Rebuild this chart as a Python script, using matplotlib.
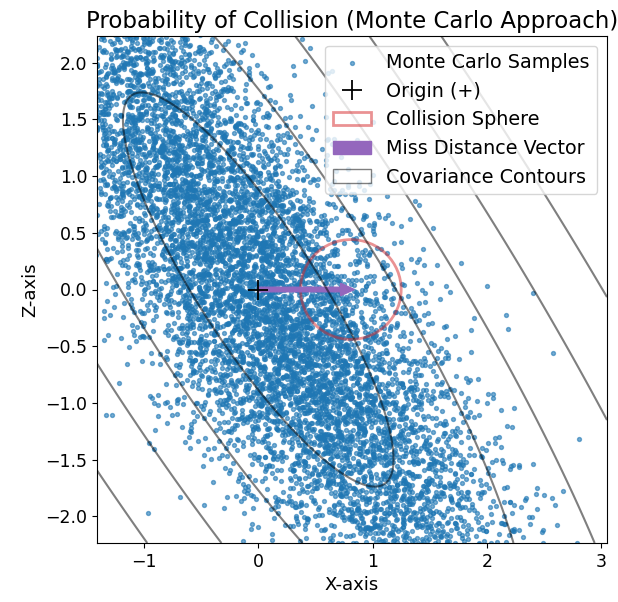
import numpy as np
import matplotlib
matplotlib.use("Agg")
import matplotlib.pyplot as plt
from matplotlib.patches import Patch

# relative position distribution
mean = [0.0, 0.0]
cov = [[1.40, -1.77],
       [-1.77, 3.02]]
n_samples = 10000
seed = 7

sigma_levels = [1, 2, 3, 4, 5]

sphere_center = (0.81, 0.0)
sphere_radius = 0.44
miss_vector = (0.84, 0.0)

xlim = (-1.41, 3.05)
ylim = (-2.235, 2.235)
xticks = [-1, 0, 1, 2, 3]

# Monte Carlo cloud (samples drawn from the covariance above)
rng = np.random.default_rng(seed)
samples = rng.multivariate_normal(mean, cov, n_samples)

fig = plt.figure(figsize=(6.18, 6.02), dpi=100)
ax = fig.add_axes([97/618, 1-543/602, 510/618, 507/602])

ax.scatter(samples[:, 0], samples[:, 1], s=8, alpha=0.6, color="tab:blue",
           label="Monte Carlo Samples")

# mahalanobis distance on a grid for the covariance contours
gx = np.linspace(xlim[0], xlim[1], 400)
gy = np.linspace(ylim[0], ylim[1], 400)
X, Y = np.meshgrid(gx, gy)
inv = np.linalg.inv(np.array(cov))
dx = X - mean[0]
dy = Y - mean[1]
md = np.sqrt(inv[0, 0]*dx**2 + 2*inv[0, 1]*dx*dy + inv[1, 1]*dy**2)
ax.contour(X, Y, md, levels=sigma_levels, colors="black", alpha=0.5, linewidths=1.5)

origin, = ax.plot(0, 0, "k+", markersize=15, mew=1.3, label="Origin (+)")

circ = plt.Circle(sphere_center, sphere_radius, fill=False, edgecolor="tab:red",
                  alpha=0.5, lw=2, label="Collision Sphere")
ax.add_patch(circ)

arr = ax.arrow(0, 0, miss_vector[0], miss_vector[1], width=0.04, head_width=0.11,
               head_length=0.12, length_includes_head=True, color="tab:purple",
               label="Miss Distance Vector")

cont_handle = Patch(facecolor="none", edgecolor="black", alpha=0.5,
                    label="Covariance Contours")

handles, labels = ax.get_legend_handles_labels()
handles.append(cont_handle)
labels.append("Covariance Contours")
ax.legend(handles, labels, loc="upper right", fontsize=13.8)

ax.set_xlim(xlim)
ax.set_ylim(ylim)
ax.set_xticks(xticks)
ax.tick_params(labelsize=12.5)
ax.set_xlabel("X-axis", fontsize=13)
ax.set_ylabel("Z-axis", fontsize=13)
ax.set_title("Probability of Collision (Monte Carlo Approach)", fontsize=16.5)

fig.savefig("out.png", dpi=100)
